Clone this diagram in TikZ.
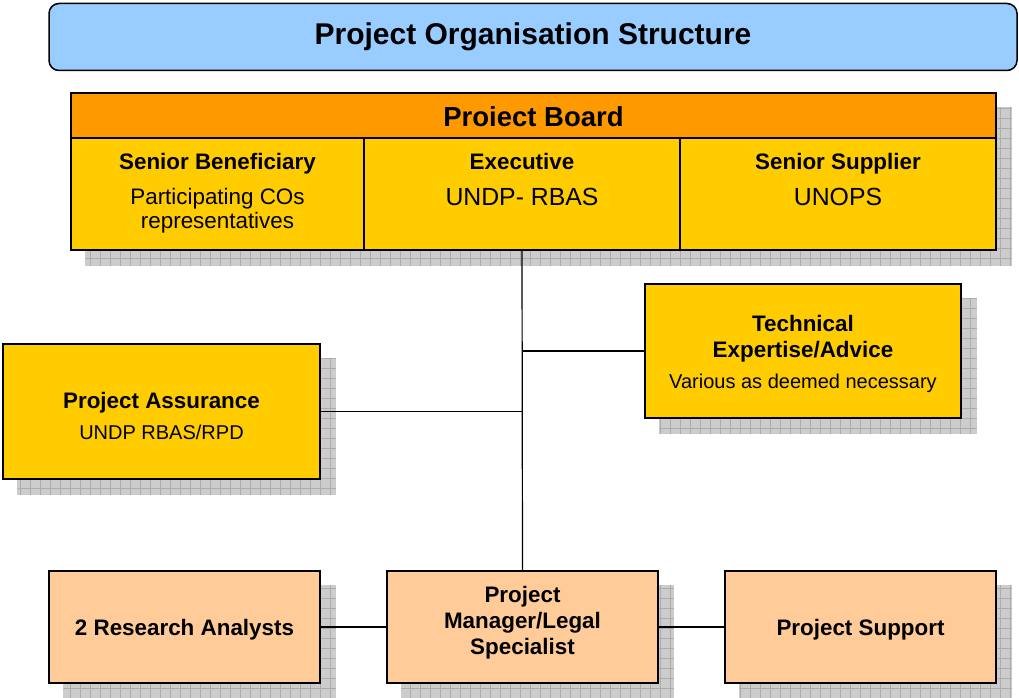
\documentclass[tikz,border=0pt]{standalone}
\usepackage{fontspec}
\setmainfont{Liberation Sans}
\usetikzlibrary{positioning,backgrounds,patterns.meta}

\definecolor{titleblue}{HTML}{99CCFF}
\definecolor{boardorange}{HTML}{FF9900}
\definecolor{boxgold}{HTML}{FFCC00}
\definecolor{boxpeach}{HTML}{FFCC99}

\tikzset{
    unit/.style={draw, line width=1.5pt, inner sep=0pt, align=center},
    gold/.style={unit, fill=boxgold},
    peach/.style={unit, fill=boxpeach, minimum width=271pt, minimum height=112pt},
    head/.style={anchor=base, font=\fontsize{22.4pt}{26pt}\selectfont\bfseries, align=center},
    note/.style={anchor=base, font=\fontsize{#1}{24pt}\selectfont, align=center},
    shade/.style={preaction={fill=gray!40},
        pattern={Hatch[angle=0, distance=10pt, line width=0.6pt]}, pattern color=gray!65},
    link/.style={line width=1.2pt},
}

\begin{document}
\begin{tikzpicture}[x=1pt, y=-1pt]
    \useasboundingbox (0, 0) rectangle (1019, 698);

    \node[unit, fill=titleblue, rounded corners=10pt, minimum width=968pt, minimum height=67pt,
        font=\fontsize{30pt}{34pt}\selectfont\bfseries] (title) at (533, 37) {Project Organisation Structure};

    % board
    \node[unit, fill=boardorange, minimum width=925pt, minimum height=45pt,
        font=\fontsize{27.5pt}{30pt}\selectfont\bfseries] (board) at (533.5, 115.5) {};
    \node[anchor=base, font=\fontsize{27.5pt}{30pt}\selectfont\bfseries] (boardname) at (533.5, 127) {Proiect Board};
    \node[gold, minimum width=293pt, minimum height=112pt] (sb) at (217.5, 194) {};
    \node[gold, minimum width=316pt, minimum height=112pt] (ex) at (522, 194) {};
    \node[gold, minimum width=316pt, minimum height=112pt] (ss) at (838, 194) {};
    \node[head] (sbname) at (217.5, 169) {Senior Beneficiary};
    \node[note=22.4pt] (sbwho) at (217.5, 204) {Participating COs};
    \node[note=22.4pt] (sbwho2) at (217.5, 228) {representatives};
    \node[head] (exname) at (522, 169) {Executive};
    \node[note=24.8pt] (exwho) at (522, 205) {UNDP- RBAS};
    \node[head] (ssname) at (838, 169) {Senior Supplier};
    \node[note=24.8pt] (sswho) at (838, 205) {UNOPS};

    % side boxes
    \node[gold, minimum width=316pt, minimum height=134pt] (tech) at (803, 351) {};
    \node[head] (techname) at (803, 331) {Technical};
    \node[head] (techname2) at (803, 357) {Expertise/Advice};
    \node[note=20pt] (techwho) at (803, 388) {Various as deemed necessary};
    \node[gold, minimum width=317pt, minimum height=135pt] (assur) at (161.5, 411.5) {};
    \node[head] (assurname) at (161.5, 408) {Project Assurance};
    \node[note=20pt] (assurwho) at (161.5, 439) {UNDP RBAS/RPD};

    % team
    \node[peach] (analysts) at (184.5, 627) {};
    \node[peach] (manager) at (522.5, 627) {};
    \node[peach] (support) at (860.5, 627) {};
    \node[head] (analystsname) at (184.5, 635) {2 Research Analysts};
    \node[head] (managername) at (522.5, 602) {Project};
    \node[head] (managername2) at (522.5, 628) {Manager/Legal};
    \node[head] (managername3) at (522.5, 654) {Specialist};
    \node[head] (supportname) at (860.5, 635) {Project Support};

    \draw[link] (ex.south) -- (manager.north);
    \draw[link] (tech.west) -- (tech.west -| ex.south);
    \draw[link] (assur.east) -- (assur.east -| ex.south);
    \draw[link] (analysts) -- (manager);
    \draw[link] (manager) -- (support);

    \begin{scope}[on background layer]
        \fill[shade] ([xshift=15pt, yshift=-15pt]board.north west) rectangle ([xshift=15pt, yshift=-15pt]ss.south east);
        \foreach \b in {tech, assur, analysts, manager, support}
            \fill[shade] ([xshift=15pt, yshift=-15pt]\b.north west) rectangle ([xshift=15pt, yshift=-15pt]\b.south east);
    \end{scope}
\end{tikzpicture}
\end{document}
